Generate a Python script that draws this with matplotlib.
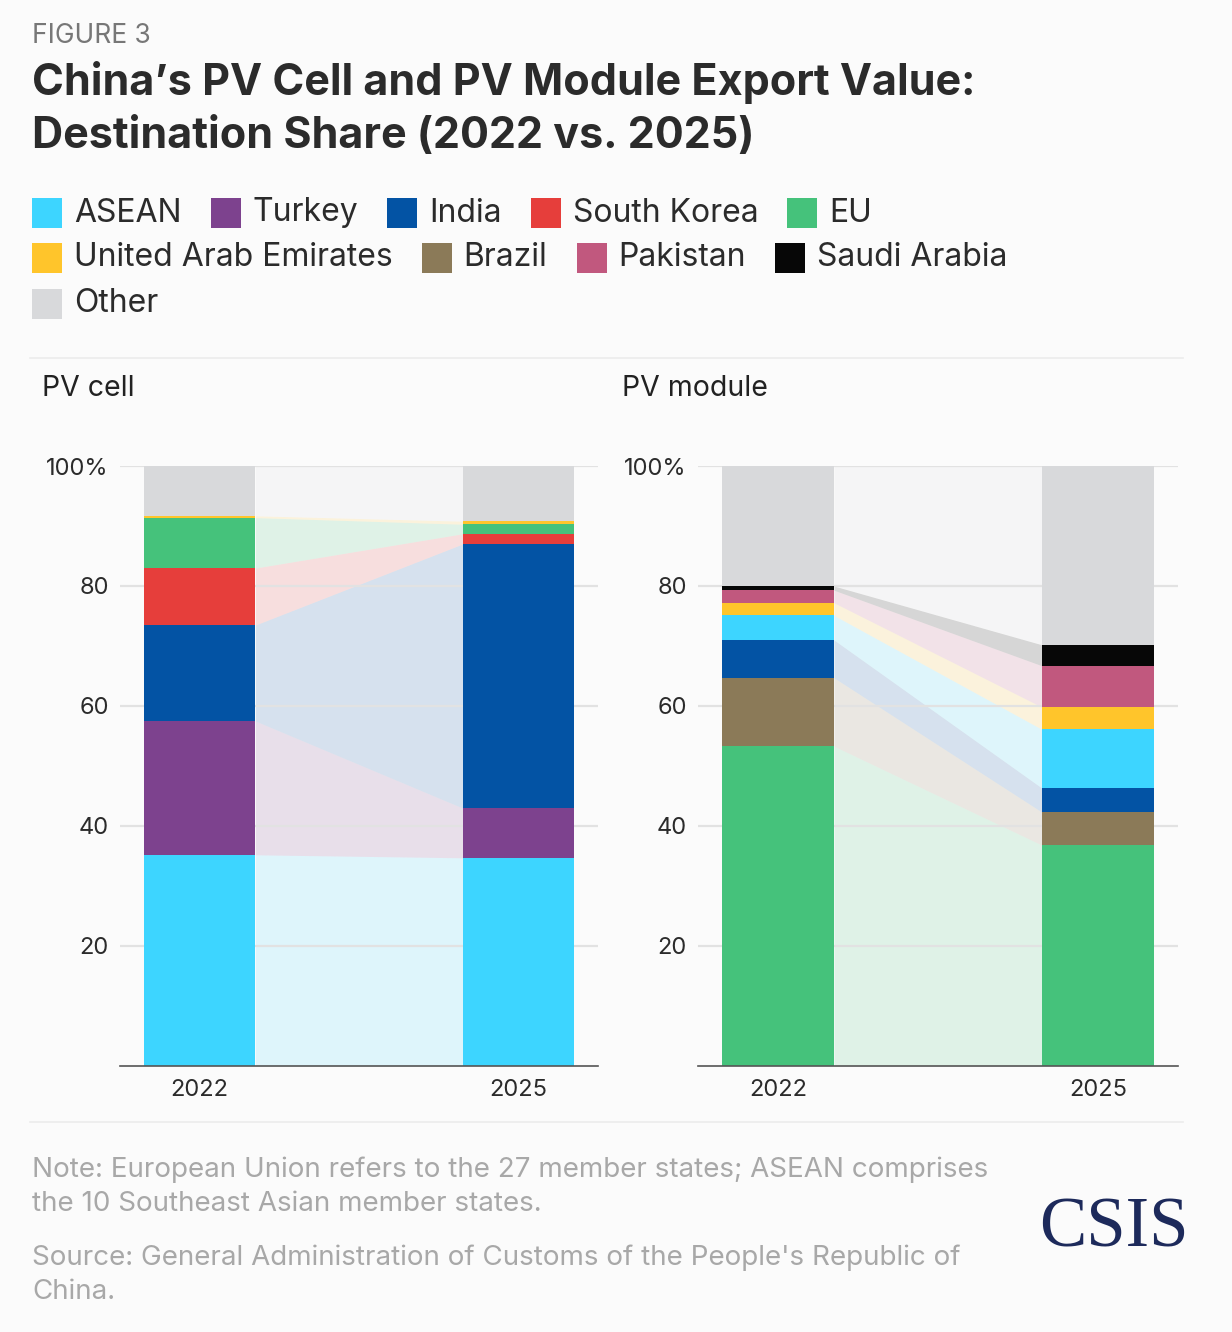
import matplotlib.pyplot as plt
from matplotlib.patches import Rectangle
import numpy as np

plt.rcParams['font.family'] = ['Inter', 'DejaVu Sans']

years = ['2022', '2025']

colors = {
    'ASEAN': '#3dd5ff',
    'Turkey': '#7d428e',
    'India': '#0353a4',
    'South Korea': '#e63e3b',
    'EU': '#45c27b',
    'United Arab Emirates': '#ffc52b',
    'Brazil': '#8b7a58',
    'Pakistan': '#c1587e',
    'Saudi Arabia': '#070707',
    'Other': '#d8d9db',
}
legend_rows = [['ASEAN', 'Turkey', 'India', 'South Korea', 'EU'],
               ['United Arab Emirates', 'Brazil', 'Pakistan', 'Saudi Arabia'],
               ['Other']]

# shares in %, stacked bottom -> top
cell_order = ['ASEAN', 'Turkey', 'India', 'South Korea', 'EU', 'United Arab Emirates', 'Other']
cell_2022 = [35.2, 22.3, 16.0, 9.5, 8.4, 0.3, 8.3]
cell_2025 = [34.7, 8.3, 44.0, 1.7, 1.6, 0.5, 9.2]

module_order = ['EU', 'Brazil', 'India', 'ASEAN', 'United Arab Emirates', 'Pakistan', 'Saudi Arabia', 'Other']
module_2022 = [53.3, 11.4, 6.3, 4.1, 2.1, 2.1, 0.7, 20.0]
module_2025 = [36.8, 5.5, 4.0, 9.8, 3.7, 6.9, 3.5, 29.8]

BG = '#fbfbfb'
W, H = 1232, 1332
fig = plt.figure(figsize=(W / 100, H / 100), dpi=100, facecolor=BG)


def fx(px):
    return px / W


def fy(py):
    return 1 - py / H


def draw_panel(ax, order, v0, v1):
    ax.set_facecolor(BG)
    bw = 0.35
    b0 = np.concatenate([[0], np.cumsum(v0)[:-1]])
    b1 = np.concatenate([[0], np.cumsum(v1)[:-1]])
    for i, name in enumerate(order):
        c = colors[name]
        # flow band between the two bars
        ax.fill_between([bw / 2, 1 - bw / 2], [b0[i], b1[i]],
                        [b0[i] + v0[i], b1[i] + v1[i]],
                        color=c, alpha=0.15, linewidth=0, zorder=1)
        ax.bar([0, 1], [v0[i], v1[i]], bottom=[b0[i], b1[i]], width=bw,
               color=c, linewidth=0, zorder=3)
    for yv in [20, 40, 60, 80, 100]:
        ax.axhline(yv, color='#e2e2e2', lw=1.6, zorder=2)
    ax.set_xlim(-0.25, 1.25)
    ax.set_ylim(0, 100)
    ax.set_xticks([0, 1])
    ax.set_xticklabels(years, fontsize=17, color='#2b2b2b')
    ax.set_yticks([20, 40, 60, 80, 100])
    ax.set_yticklabels(['20', '40', '60', '80', '100%'], fontsize=17, color='#2b2b2b')
    ax.tick_params(length=0, pad=9)
    ax.tick_params(axis='y', pad=8)
    for s in ['top', 'right', 'left']:
        ax.spines[s].set_visible(False)
    ax.spines['bottom'].set_color('#555555')
    ax.spines['bottom'].set_linewidth(1.2)
    ax.spines['bottom'].set_zorder(4)


ax1 = fig.add_axes([fx(120), fy(1066), fx(478), 600 / H])
ax2 = fig.add_axes([fx(698), fy(1066), fx(480), 600 / H])
draw_panel(ax1, cell_order, cell_2022, cell_2025)
draw_panel(ax2, module_order, module_2022, module_2025)

fig.text(fx(42), fy(389), 'PV cell', fontsize=20.5, color='#222222', va='center')
fig.text(fx(622), fy(389), 'PV module', fontsize=20.5, color='#222222', va='center')

# titles
fig.text(fx(32), fy(36), 'FIGURE 3', fontsize=19, color='#777777', va='center')
fig.text(fx(32), fy(83), 'China\u2019s PV Cell and PV Module Export Value:',
         fontsize=31, fontweight='bold', color='#2b2b2b', va='center')
fig.text(fx(32), fy(136), 'Destination Share (2022 vs. 2025)',
         fontsize=31, fontweight='bold', color='#2b2b2b', va='center')

# legend, flowing rows
fig.canvas.draw()
renderer = fig.canvas.get_renderer()
row_y = [213, 258, 304]
for ry, row in zip(row_y, legend_rows):
    x = 32
    for name in row:
        fig.patches.append(Rectangle((fx(x), fy(ry + 15)), fx(30), 30 / H,
                                     transform=fig.transFigure,
                                     facecolor=colors[name], edgecolor='none'))
        t = fig.text(fx(x + 42), fy(ry), name, fontsize=23, color='#2b2b2b', va='center')
        bb = t.get_window_extent(renderer)
        x = x + 42 + bb.width + 29

# separator lines
for ly in [358, 1122]:
    fig.add_artist(plt.Line2D([fx(30), fx(1183)], [fy(ly), fy(ly)],
                              color='#ececec', lw=1.2))

# notes
note_color = '#a8a8a8'
fig.text(fx(32), fy(1170), 'Note: European Union refers to the 27 member states; ASEAN comprises',
         fontsize=20, color=note_color, va='center')
fig.text(fx(32), fy(1204), 'the 10 Southeast Asian member states.',
         fontsize=20, color=note_color, va='center')
fig.text(fx(32), fy(1258), "Source: General Administration of Customs of the People's Republic of",
         fontsize=20, color=note_color, va='center')
fig.text(fx(32), fy(1292), 'China.', fontsize=20, color=note_color, va='center')

fig.text(fx(1189), fy(1229), 'CSIS', fontsize=51, color='#1d2a5b', ha='right', va='center',
         family=['Liberation Serif', 'DejaVu Serif'])

fig.savefig('out.png', dpi=100, facecolor=BG)
